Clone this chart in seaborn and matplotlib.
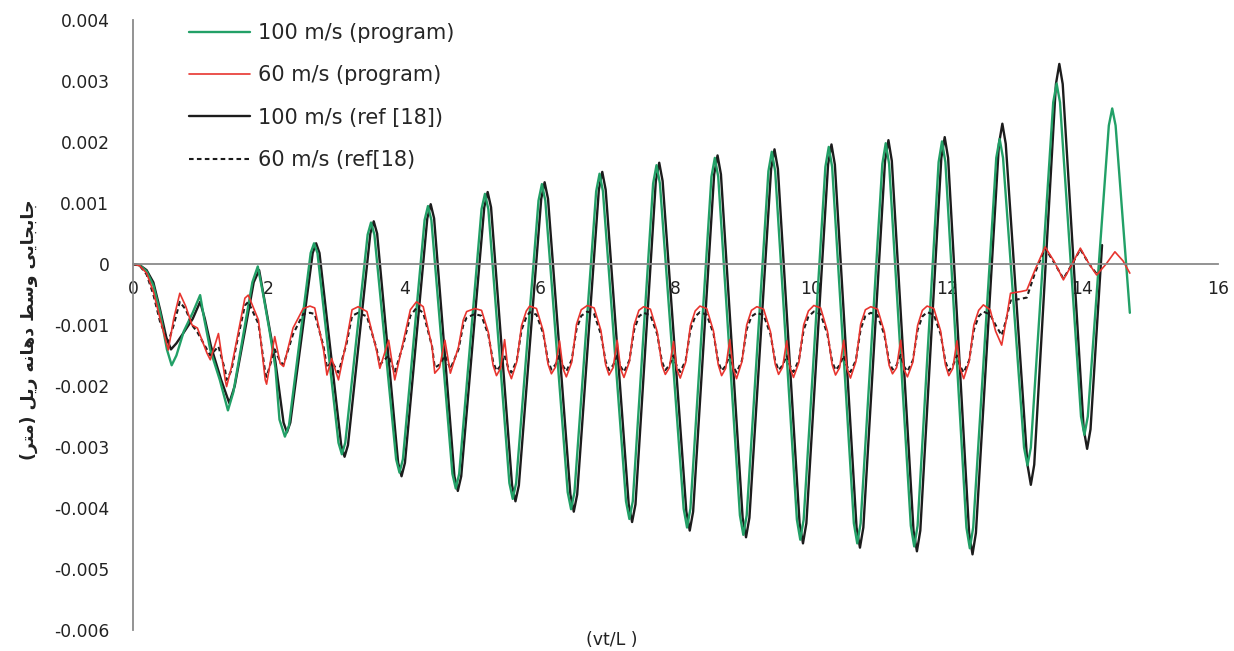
import numpy as np
import pandas as pd
import seaborn as sns
import matplotlib.pyplot as plt

# ---- data (x = vt/L, y = mid-span rail displacement in m) ----
# 100 m/s, program
t100_prog = [0.00, 0.10, 0.20, 0.30, 0.40, 0.50, 0.57, 0.64, 0.75, 0.88, 0.99, 1.05, 1.14, 1.28, 1.40, 1.48,
             1.62, 1.76, 1.84, 1.92, 2.02, 2.10, 2.16, 2.24, 2.30, 2.62, 2.67, 2.72, 3.03, 3.08, 3.13,
             3.46, 3.51, 3.56, 3.88, 3.93, 3.98, 4.30, 4.35, 4.40, 4.71, 4.76, 4.81, 5.14, 5.19, 5.24,
             5.55, 5.60, 5.65, 5.98, 6.03, 6.08, 6.41, 6.46, 6.51, 6.83, 6.88, 6.93, 7.27, 7.32, 7.37,
             7.67, 7.72, 7.77, 8.12, 8.17, 8.22, 8.53, 8.58, 8.63, 8.95, 9.00, 9.05, 9.37, 9.42, 9.47,
             9.79, 9.84, 9.89, 10.21, 10.26, 10.31, 10.63, 10.68, 10.73, 11.05, 11.10, 11.15,
             11.47, 11.52, 11.57, 11.88, 11.93, 11.98, 12.29, 12.34, 12.39, 12.73, 12.78, 12.83,
             13.14, 13.19, 13.24, 13.57, 13.62, 13.67, 13.98, 14.03, 14.08, 14.39, 14.44, 14.49, 14.70]
y100_prog = [0.0, -0.00002, -0.00012, -0.00035, -0.00080, -0.00140, -0.00166, -0.00150, -0.00110, -0.00080,
             -0.00051, -0.00090, -0.00141, -0.00190, -0.00240, -0.00210, -0.00120, -0.00030, -0.00004,
             -0.00050, -0.00114, -0.00170, -0.00255, -0.00283, -0.00265, 0.00018, 0.00034, 0.00018,
             -0.00293, -0.00312, -0.00293, 0.00048, 0.00068, 0.00048, -0.00320, -0.00342, -0.00320,
             0.00072, 0.00095, 0.00072, -0.00344, -0.00368, -0.00344, 0.00090, 0.00115, 0.00090,
             -0.00359, -0.00385, -0.00359, 0.00104, 0.00131, 0.00104, -0.00374, -0.00402, -0.00374,
             0.00119, 0.00148, 0.00119, -0.00389, -0.00418, -0.00389, 0.00132, 0.00162, 0.00132,
             -0.00401, -0.00432, -0.00401, 0.00143, 0.00174, 0.00143, -0.00412, -0.00444, -0.00412,
             0.00152, 0.00184, 0.00152, -0.00419, -0.00452, -0.00419, 0.00159, 0.00192, 0.00159,
             -0.00425, -0.00458, -0.00425, 0.00164, 0.00198, 0.00164, -0.00429, -0.00463, -0.00429,
             0.00167, 0.00201, 0.00167, -0.00432, -0.00466, -0.00432, 0.00174, 0.00205, 0.00174,
             -0.00301, -0.00330, -0.00301, 0.00265, 0.00296, 0.00265, -0.00250, -0.00280, -0.00250,
             0.00227, 0.00255, 0.00227, -0.00080]

# 100 m/s, ref [18]
t100_ref = [0.00, 0.10, 0.20, 0.30, 0.40, 0.49, 0.56, 0.64, 0.75, 0.88, 0.99, 1.06, 1.15, 1.30, 1.42, 1.50,
            1.65, 1.78, 1.86, 1.94, 2.02, 2.10, 2.22, 2.27, 2.32, 2.65, 2.70, 2.75, 3.07, 3.12, 3.17,
            3.50, 3.55, 3.60, 3.91, 3.96, 4.01, 4.34, 4.39, 4.44, 4.74, 4.79, 4.84, 5.18, 5.23, 5.28,
            5.59, 5.64, 5.69, 6.02, 6.07, 6.12, 6.45, 6.50, 6.55, 6.87, 6.92, 6.97, 7.31, 7.36, 7.41,
            7.71, 7.76, 7.81, 8.16, 8.21, 8.26, 8.57, 8.62, 8.67, 8.99, 9.04, 9.09, 9.41, 9.46, 9.51,
            9.83, 9.88, 9.93, 10.25, 10.30, 10.35, 10.67, 10.72, 10.77, 11.09, 11.14, 11.19,
            11.51, 11.56, 11.61, 11.92, 11.97, 12.02, 12.33, 12.38, 12.43, 12.77, 12.82, 12.87,
            13.19, 13.24, 13.29, 13.61, 13.66, 13.71, 14.02, 14.07, 14.12, 14.29]
y100_ref = [0.0, -0.00002, -0.00010, -0.00030, -0.00075, -0.00120, -0.00140, -0.00130, -0.00112, -0.00090,
            -0.00062, -0.00090, -0.00135, -0.00190, -0.00228, -0.00200, -0.00110, -0.00030, -0.00010,
            -0.00060, -0.00110, -0.00160, -0.00260, -0.00276, -0.00260, 0.00018, 0.00034, 0.00018,
            -0.00297, -0.00316, -0.00297, 0.00050, 0.00070, 0.00050, -0.00326, -0.00348, -0.00326,
            0.00075, 0.00098, 0.00075, -0.00348, -0.00372, -0.00348, 0.00093, 0.00118, 0.00093,
            -0.00363, -0.00389, -0.00363, 0.00107, 0.00134, 0.00107, -0.00378, -0.00406, -0.00378,
            0.00122, 0.00151, 0.00122, -0.00394, -0.00423, -0.00394, 0.00136, 0.00166, 0.00136,
            -0.00406, -0.00437, -0.00406, 0.00147, 0.00178, 0.00147, -0.00416, -0.00448, -0.00416,
            0.00156, 0.00188, 0.00156, -0.00425, -0.00458, -0.00425, 0.00163, 0.00196, 0.00163,
            -0.00432, -0.00465, -0.00432, 0.00169, 0.00203, 0.00169, -0.00437, -0.00471, -0.00437,
            0.00174, 0.00208, 0.00174, -0.00441, -0.00476, -0.00441, 0.00197, 0.00230, 0.00197,
            -0.00329, -0.00362, -0.00329, 0.00295, 0.00328, 0.00295, -0.00271, -0.00303, -0.00271,
            0.00031]

# 60 m/s, program and ref [18] share the same sample positions
t60 = [0.00, 0.10, 0.20, 0.30, 0.40, 0.52, 0.60, 0.69, 0.78, 0.87, 0.95, 1.09, 1.14, 1.26, 1.36, 1.38,
       1.45, 1.53, 1.65, 1.70, 1.85, 1.95, 1.97, 2.09, 2.17, 2.22, 2.36, 2.51, 2.61, 2.68, 2.81, 2.86,
       2.93, 3.03, 3.15, 3.23, 3.32, 3.45, 3.59, 3.64, 3.77, 3.86, 3.99, 4.09, 4.18, 4.28, 4.41, 4.45,
       4.52, 4.60, 4.68, 4.80, 4.87, 4.92,
       5.04, 5.14, 5.24, 5.31, 5.36, 5.42, 5.48, 5.53, 5.58, 5.66, 5.73, 5.80,
       5.85, 5.95, 6.05, 6.12, 6.17, 6.23, 6.29, 6.34, 6.39, 6.47, 6.54, 6.61,
       6.70, 6.80, 6.90, 6.97, 7.02, 7.08, 7.14, 7.19, 7.24, 7.32, 7.39, 7.46,
       7.53, 7.63, 7.73, 7.80, 7.85, 7.91, 7.97, 8.02, 8.07, 8.15, 8.22, 8.29,
       8.36, 8.46, 8.56, 8.63, 8.68, 8.74, 8.80, 8.85, 8.90, 8.98, 9.05, 9.12,
       9.20, 9.30, 9.40, 9.47, 9.52, 9.58, 9.64, 9.69, 9.74, 9.82, 9.89, 9.96,
       10.04, 10.14, 10.24, 10.31, 10.36, 10.42, 10.48, 10.53, 10.58, 10.66, 10.73, 10.80,
       10.88, 10.98, 11.08, 11.15, 11.20, 11.26, 11.32, 11.37, 11.42, 11.50, 11.57, 11.64,
       11.71, 11.81, 11.91, 11.98, 12.03, 12.09, 12.15, 12.20, 12.25, 12.33, 12.40, 12.47,
       12.54, 12.64, 12.72, 12.81, 12.88, 12.94, 13.10, 13.18, 13.30, 13.45, 13.58, 13.72,
       13.85, 13.97, 14.10, 14.21, 14.35, 14.48, 14.60, 14.70]
y60_prog = [0.0, -0.00003, -0.00015, -0.00045, -0.00090, -0.00141, -0.00090, -0.00048, -0.00070, -0.00100,
            -0.00105, -0.00146, -0.00157, -0.00114, -0.00190, -0.00201, -0.00170, -0.00125, -0.00056,
            -0.00051, -0.00092, -0.00190, -0.00197, -0.00119, -0.00163, -0.00168, -0.00105, -0.00073,
            -0.00069, -0.00072, -0.00141, -0.00182, -0.00155, -0.00190, -0.00125, -0.00075, -0.00070,
            -0.00078, -0.00141, -0.00171, -0.00125, -0.00190, -0.00125, -0.00075, -0.00062, -0.00070,
            -0.00136, -0.00179, -0.00170, -0.00125, -0.00179, -0.00136, -0.00092, -0.00078,
            -0.00073, -0.00076, -0.00112, -0.00166, -0.00183, -0.00171, -0.00124, -0.00173, -0.00188, -0.00160, -0.00101, -0.00077,
            -0.00069, -0.00073, -0.00110, -0.00164, -0.00180, -0.00169, -0.00126, -0.00171, -0.00185, -0.00161, -0.00099, -0.00075,
            -0.00068, -0.00072, -0.00109, -0.00165, -0.00182, -0.00170, -0.00125, -0.00172, -0.00186, -0.00160, -0.00100, -0.00076,
            -0.00070, -0.00074, -0.00111, -0.00166, -0.00181, -0.00170, -0.00127, -0.00173, -0.00187, -0.00161, -0.00101, -0.00077,
            -0.00069, -0.00073, -0.00110, -0.00165, -0.00183, -0.00171, -0.00124, -0.00172, -0.00188, -0.00160, -0.00100, -0.00076,
            -0.00070, -0.00074, -0.00111, -0.00164, -0.00181, -0.00169, -0.00126, -0.00171, -0.00186, -0.00161, -0.00100, -0.00077,
            -0.00068, -0.00072, -0.00110, -0.00165, -0.00182, -0.00170, -0.00125, -0.00172, -0.00187, -0.00160, -0.00099, -0.00075,
            -0.00070, -0.00074, -0.00111, -0.00166, -0.00180, -0.00170, -0.00125, -0.00173, -0.00185, -0.00161, -0.00101, -0.00076,
            -0.00069, -0.00073, -0.00110, -0.00165, -0.00183, -0.00171, -0.00126, -0.00172, -0.00188, -0.00160, -0.00100, -0.00076,
            -0.00067, -0.00075, -0.00110, -0.00133, -0.00090, -0.00048, -0.00045, -0.00043, -0.00010, 0.00028, 0.00005, -0.00026,
            0.00000, 0.00026, 0.00000, -0.00018, 0.00000, 0.00020, 0.00005, -0.00015]
y60_ref = [0.0, -0.00003, -0.00017, -0.00050, -0.00095, -0.00128, -0.00100, -0.00062, -0.00075, -0.00100,
           -0.00112, -0.00140, -0.00150, -0.00135, -0.00175, -0.00190, -0.00175, -0.00130, -0.00068,
           -0.00062, -0.00098, -0.00178, -0.00185, -0.00140, -0.00160, -0.00165, -0.00115, -0.00082,
           -0.00080, -0.00082, -0.00135, -0.00170, -0.00160, -0.00178, -0.00130, -0.00085, -0.00080,
           -0.00086, -0.00138, -0.00165, -0.00150, -0.00178, -0.00130, -0.00085, -0.00072, -0.00080,
           -0.00135, -0.00170, -0.00165, -0.00150, -0.00172, -0.00140, -0.00100, -0.00088,
           -0.00082, -0.00085, -0.00116, -0.00160, -0.00175, -0.00167, -0.00150, -0.00169, -0.00178, -0.00158, -0.00108, -0.00087,
           -0.00079, -0.00083, -0.00114, -0.00159, -0.00173, -0.00165, -0.00149, -0.00167, -0.00176, -0.00157, -0.00107, -0.00085,
           -0.00078, -0.00082, -0.00115, -0.00160, -0.00174, -0.00166, -0.00150, -0.00168, -0.00177, -0.00158, -0.00108, -0.00086,
           -0.00080, -0.00084, -0.00115, -0.00160, -0.00174, -0.00166, -0.00150, -0.00168, -0.00177, -0.00158, -0.00108, -0.00086,
           -0.00079, -0.00083, -0.00114, -0.00160, -0.00175, -0.00167, -0.00149, -0.00168, -0.00178, -0.00158, -0.00107, -0.00086,
           -0.00080, -0.00084, -0.00115, -0.00159, -0.00174, -0.00166, -0.00150, -0.00167, -0.00177, -0.00157, -0.00108, -0.00086,
           -0.00078, -0.00082, -0.00115, -0.00160, -0.00174, -0.00166, -0.00150, -0.00168, -0.00177, -0.00158, -0.00107, -0.00085,
           -0.00080, -0.00084, -0.00116, -0.00160, -0.00173, -0.00166, -0.00149, -0.00168, -0.00176, -0.00158, -0.00108, -0.00086,
           -0.00079, -0.00083, -0.00115, -0.00160, -0.00175, -0.00167, -0.00150, -0.00168, -0.00178, -0.00158, -0.00108, -0.00086,
           -0.00078, -0.00083, -0.00100, -0.00117, -0.00090, -0.00060, -0.00057, -0.00055, -0.00015, 0.00026, 0.00003, -0.00024,
           0.00000, 0.00024, 0.00000, -0.00016, np.nan, np.nan, np.nan, np.nan]

x_ticks = [0, 2, 4, 6, 8, 10, 12, 14, 16]
y_ticks = [0.004, 0.003, 0.002, 0.001, 0, -0.001, -0.002, -0.003, -0.004, -0.005, -0.006]
y_tick_labels = ['0.004', '0.003', '0.002', '0.001', '0', '-0.001', '-0.002', '-0.003', '-0.004', '-0.005', '-0.006']

# Persian axis title, written in presentation forms (visual order) since matplotlib does no Arabic shaping:
# "جابجایی وسط دهانه ریل (متر)"
ylabel_fa = ("(\ufeae\ufe98\ufee3) \ufede\ufef3\ufead \ufeea\ufee7\ufe8e\ufeeb\ufea9 "
             "\ufec2\ufeb3\ufeed \ufef0\ufef3\ufe8e\ufea0\ufe91\ufe8e\ufe9f")

sns.set_style('white')
plt.rcParams['font.family'] = ['DejaVu Sans']

fig = plt.figure(figsize=(12.34, 6.51), dpi=100)
ax = fig.add_axes([133/1234, 1 - 630/651, 1085/1234, 610/651])

green = '#22a067'
red = '#e8352f'
dark = '#1c1c1c'

df100p = pd.DataFrame({'t': t100_prog, 'y': y100_prog})
df100r = pd.DataFrame({'t': t100_ref, 'y': y100_ref})
df60 = pd.DataFrame({'t': t60, 'prog': y60_prog, 'ref': y60_ref})

sns.lineplot(data=df100r, x='t', y='y', sort=False, estimator=None, color=dark, lw=1.7, ax=ax,
             label='100 m/s (ref [18])')
sns.lineplot(data=df100p, x='t', y='y', sort=False, estimator=None, color=green, lw=1.7, ax=ax,
             label='100 m/s (program)')
sns.lineplot(data=df60, x='t', y='ref', sort=False, estimator=None, color=dark, lw=1.5, ax=ax,
             linestyle=(0, (2.2, 1.6)), label='60 m/s (ref[18)')
sns.lineplot(data=df60, x='t', y='prog', sort=False, estimator=None, color=red, lw=1.2, ax=ax,
             label='60 m/s (program)')

ax.set_xlim(0, 16)
ax.set_ylim(-0.006, 0.004)
ax.set_xticks(x_ticks)
ax.set_xticklabels([str(v) for v in x_ticks])
ax.set_yticks(y_ticks)
ax.set_yticklabels(y_tick_labels)
ax.set_xlabel('')
ax.set_ylabel('')

for side in ['top', 'right']:
    ax.spines[side].set_visible(False)
ax.spines['bottom'].set_position(('data', 0))
for side in ['left', 'bottom']:
    ax.spines[side].set_color('#8a8a8a')
    ax.spines[side].set_linewidth(1.3)
ax.tick_params(axis='y', direction='out', length=6, width=1.2, color='#8a8a8a', pad=11,
               labelsize=12.3, labelcolor='#222222')
ax.tick_params(axis='x', direction='out', length=5, width=1.2, color='#8a8a8a', pad=6.5,
               labelsize=12.3, labelcolor='#222222')

# legend in the reference order
handles, labels = ax.get_legend_handles_labels()
order = ['100 m/s (program)', '60 m/s (program)', '100 m/s (ref [18])', '60 m/s (ref[18)']
hmap = dict(zip(labels, handles))
ax.legend([hmap[k] for k in order], order, loc='upper left', bbox_to_anchor=(0.052, 0.995),
          frameon=False, fontsize=15, handlelength=2.9, handletextpad=0.4, labelspacing=1.07,
          borderpad=0, borderaxespad=0)

fig.text(29/1234, 1 - 330/651, ylabel_fa, rotation=90, ha='center', va='center', fontsize=12.5,
         fontweight='bold', color='#222222')
fig.text(612/1234, 1 - 640/651, '(vt/L )', ha='center', va='center', fontsize=12.5, color='#222222')

fig.savefig('out.png', dpi=100)
